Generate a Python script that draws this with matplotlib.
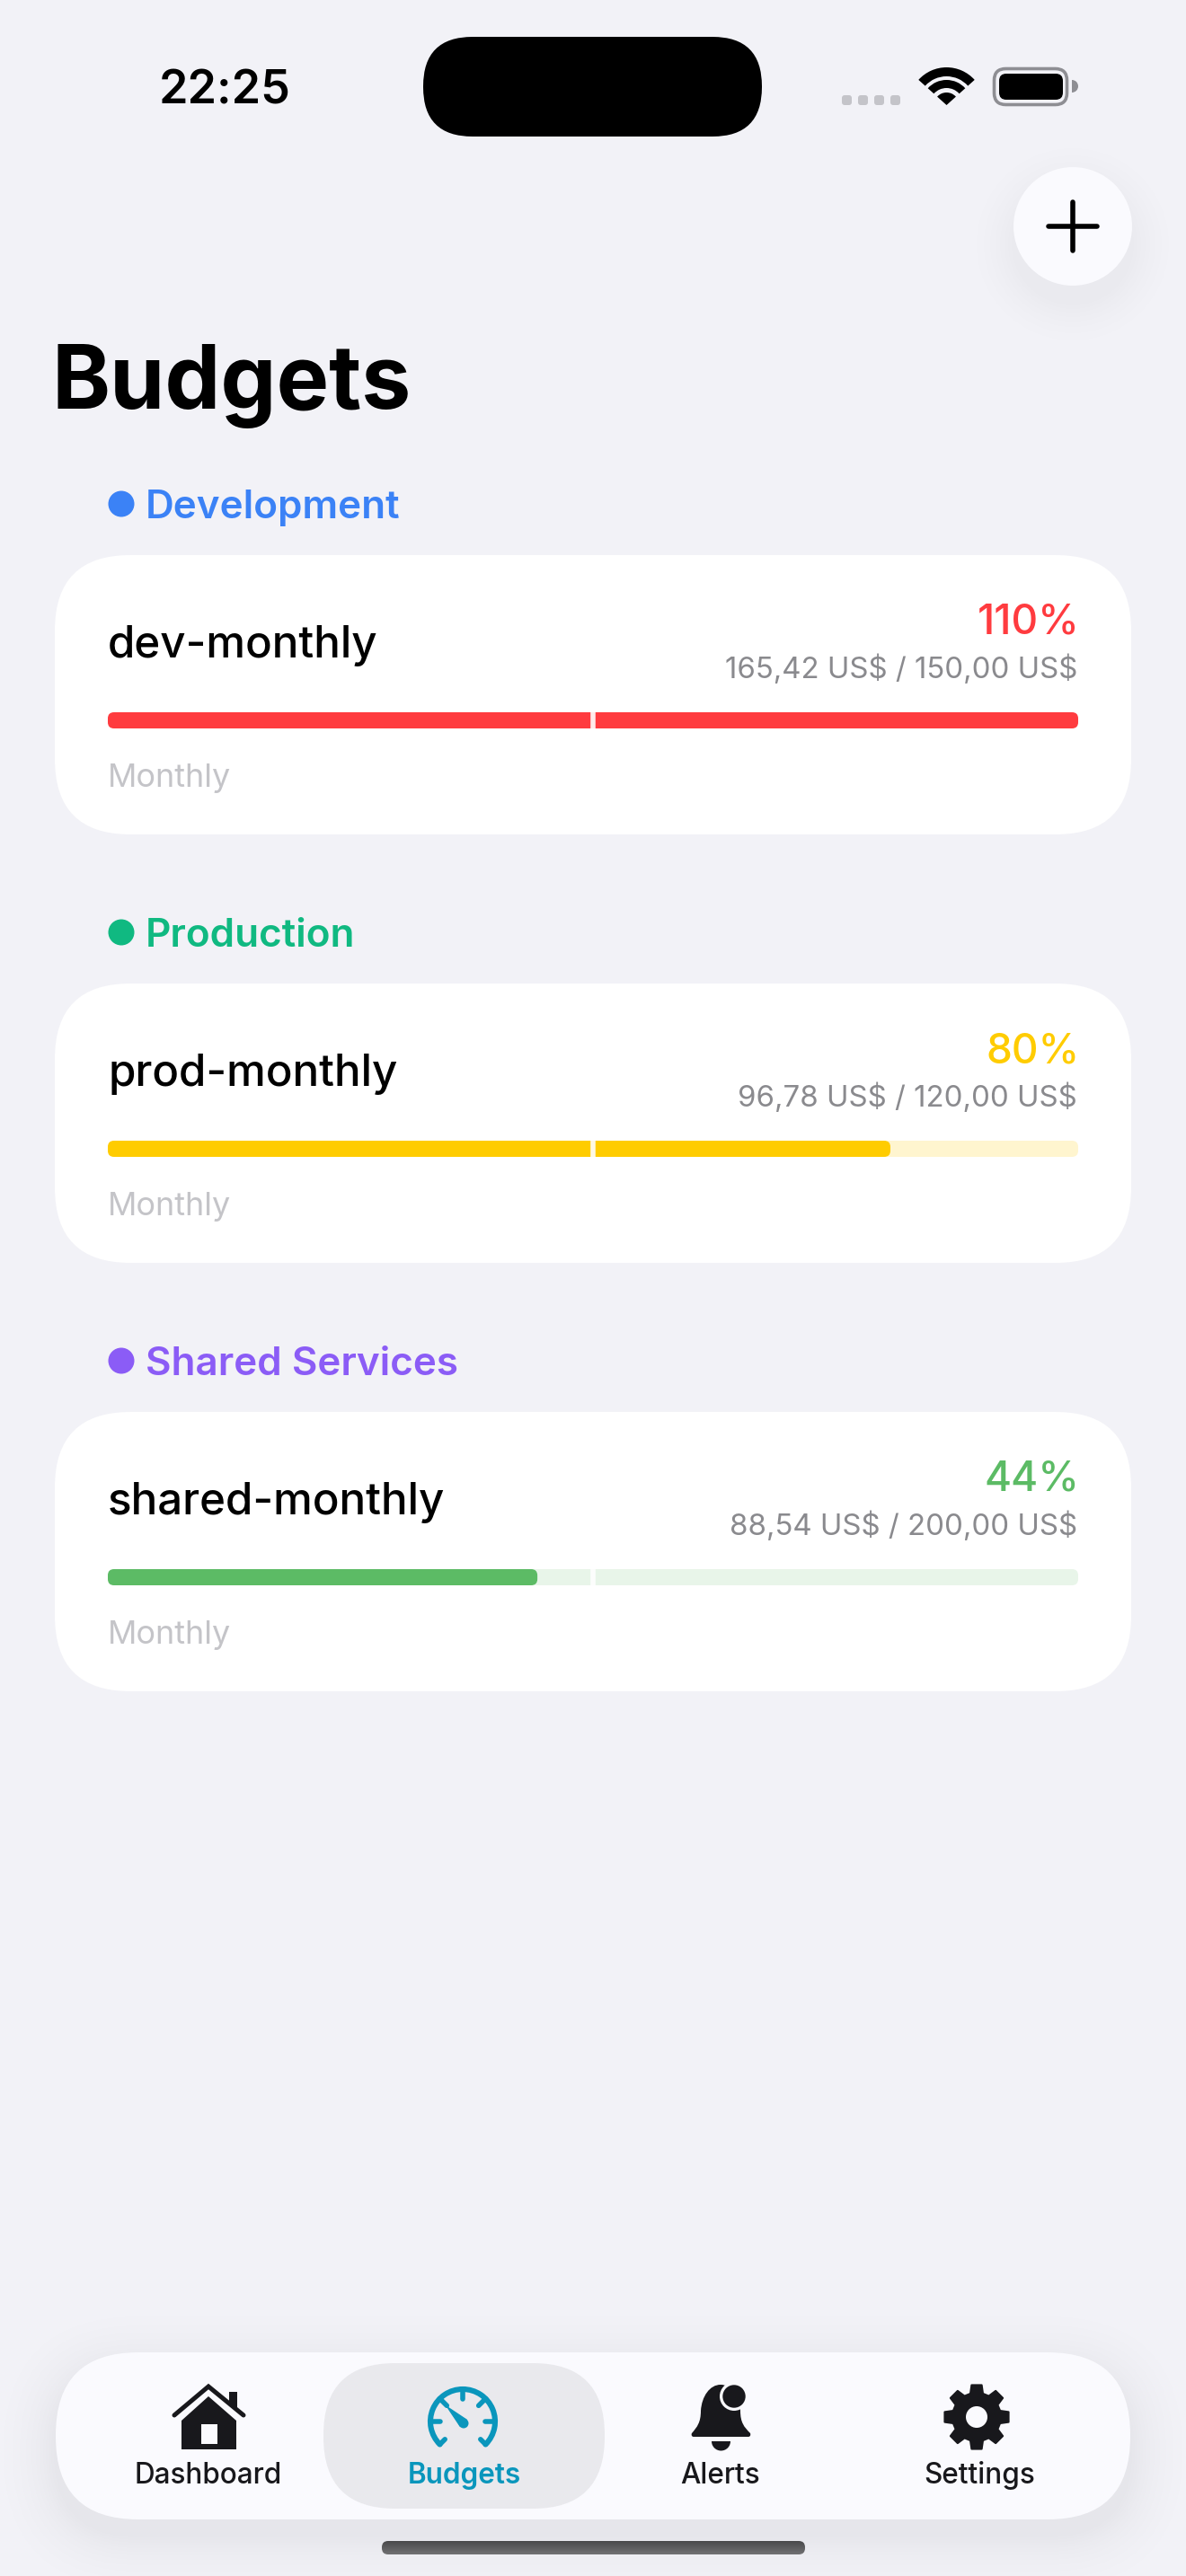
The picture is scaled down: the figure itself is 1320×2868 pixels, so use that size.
import numpy as np
import matplotlib
matplotlib.use("Agg")
import matplotlib.pyplot as plt
from matplotlib.patches import FancyBboxPatch, Circle, Wedge, Polygon, PathPatch, Arc
from matplotlib.path import Path

plt.rcParams["font.family"] = ["Inter", "Roboto", "DejaVu Sans"]

# data
groups = ["Development", "Production", "Shared Services"]
group_colors = ["#3B82F6", "#10B981", "#8B5CF6"]
budget_names = ["dev-monthly", "prod-monthly", "shared-monthly"]
spent = [165.42, 96.78, 88.54]
limits = [150.00, 120.00, 200.00]
pct_labels = ["110%", "80%", "44%"]
amount_labels = ["165,42 US$ / 150,00 US$", "96,78 US$ / 120,00 US$", "88,54 US$ / 200,00 US$"]
periods = ["Monthly", "Monthly", "Monthly"]
bar_colors = ["#FF3B3F", "#FFCC00", "#5CBB65"]
track_colors = ["#FFE0E0", "#FFF5CF", "#E8F5E9"]
tab_labels = ["Dashboard", "Budgets", "Alerts", "Settings"]
tab_centers = [232, 517, 802, 1090]

BG = "#F2F2F7"
BAR_BG = "#FAFAFE"
DARK = "#18181C"
TEAL = "#0A96BC"

fig = plt.figure(figsize=(13.2, 28.68), dpi=100, facecolor=BG)
ax = fig.add_axes([0, 0, 1, 1])
ax.set_xlim(0, 1320)
ax.set_ylim(2868, 0)
ax.axis("off")


def px(size):
    return size * 0.72


def rbox(x0, y0, x1, y1, r, color, z=2, alpha=1.0):
    p = FancyBboxPatch((x0, y0), x1 - x0, y1 - y0, boxstyle=f"round,pad=0,rounding_size={r}",
                       fc=color, ec="none", alpha=alpha, zorder=z)
    ax.add_patch(p)
    return p


def label(x, y, s, size, color, weight="normal", ha="left"):
    ax.text(x, y, s, fontsize=px(size), color=color, fontweight=weight, ha=ha, va="baseline",
            zorder=6, parse_math=False)


# ---- shadows ----
# alpha 0.004 is about one 8 bit level per layer
for g in [2, 5, 8, 11, 14, 18, 22, 27, 33, 40, 48, 58]:
    rbox(62 - g, 2619 + 18 - g, 1258 + g, 2805 + 18 + g, 92 + g, "#000000", z=1, alpha=0.004)
for g in [2, 6, 10, 15, 20, 26, 33, 41]:
    ax.add_patch(Circle((1194, 272), 66 + g, fc="#000000", ec="none", alpha=0.004, zorder=1))

# ---- status bar ----
label(250, 115, "22:25", 52, "black", "semibold", "center")
rbox(471, 41, 848, 152, 55, "black")
for x0 in [937, 955, 973, 991]:
    rbox(x0, 106, x0 + 11, 117, 3, "#C4C4C9")
for r_out, w in [(42, 10), (28, 9), (14, 14)]:
    ax.add_patch(Wedge((1053.5, 117), r_out, 222, 318, width=w, fc="black", ec="none", zorder=3))
rbox(1106.5, 76.5, 1187.5, 116.5, 13, BG)
ax.add_patch(FancyBboxPatch((1106.5, 76.5), 81, 40, boxstyle="round,pad=0,rounding_size=13",
                            fc="none", ec="#8E8E93", lw=2.6, zorder=3))
rbox(1112, 82, 1183, 111, 8, "black", z=4)
ax.add_patch(Wedge((1193, 96), 7, 270, 90, fc="#8E8E93", ec="none", zorder=3))

# ---- add button ----
ax.add_patch(Circle((1194, 252), 66, fc=BAR_BG, ec="none", zorder=2))
ax.plot([1167, 1221], [252, 252], color="black", lw=4, solid_capstyle="round", zorder=3)
ax.plot([1194, 1194], [225, 279], color="black", lw=4, solid_capstyle="round", zorder=3)

# ---- title ----
label(58, 455, "Budgets", 98.5, "black", "bold")

# ---- budget cards ----
for i in range(len(groups)):
    top = 618 + i * 477
    ax.add_patch(Circle((135, top - 57), 14.5, fc=group_colors[i], ec="none", zorder=3))
    label(162, top - 41, groups[i], 44, group_colors[i], "semibold")

    rbox(61, top, 1259, top + 311, 84, "white")
    label(120, top + 114, budget_names[i], 49.3, "black", "medium")
    label(1202, top + 88, pct_labels[i], 46, bar_colors[i], "medium", "right")
    label(1199, top + 137, amount_labels[i], 33, "#8A8A8E", "normal", "right")

    bar_x0, bar_x1 = 120, 1200
    y0, y1 = top + 175, top + 193
    rbox(bar_x0, y0, bar_x1, y1, 7, track_colors[i], z=3)
    frac = min(spent[i] / limits[i], 1.0)
    rbox(bar_x0, y0, bar_x0 + frac * (bar_x1 - bar_x0), y1, 7, bar_colors[i], z=4)
    ax.plot([660, 660], [y0, y1], color="white", lw=4, alpha=0.9, solid_capstyle="butt", zorder=5)

    label(120, top + 258, periods[i], 36, "#C4C4C8")

# ---- tab bar ----
rbox(62, 2619, 1258, 2805, 92, BAR_BG)
rbox(360, 2631, 673, 2793, 80, "#E9E9ED", z=3)
for name, cx in zip(tab_labels, tab_centers):
    c = TEAL if name == "Budgets" else DARK
    w = "semibold" if name == "Budgets" else "medium"
    label(cx, 2765, name, 31.5, c, w, "center")

# house
ax.add_patch(Polygon([[232, 2668], [263, 2695], [263, 2727], [202, 2727], [202, 2695]], fc=DARK, ec="none", zorder=5))
ax.plot([194, 232, 271], [2689, 2657, 2689], color=DARK, lw=3.6, solid_capstyle="round", solid_joinstyle="miter", zorder=5)
ax.add_patch(Polygon([[255, 2663], [264, 2663], [264, 2682], [255, 2674]], fc=DARK, ec="none", zorder=5))
ax.add_patch(Polygon([[224, 2699], [242, 2699], [242, 2721], [224, 2721]], fc=BAR_BG, ec="none", zorder=6))

# gauge
ax.add_patch(Arc((515, 2696), 72, 72, theta1=135, theta2=45, color=TEAL, lw=4.4, capstyle="round", zorder=5))
for a in [180, 225, 270, 315, 0]:
    t = np.radians(a)
    ax.plot([515 + 36 * np.cos(t), 515 + 25 * np.cos(t)], [2696 + 36 * np.sin(t), 2696 + 25 * np.sin(t)],
            color=TEAL, lw=4, solid_capstyle="round", zorder=5)
for a in [135, 45]:
    t = np.radians(a)
    ax.plot([515 + 36 * np.cos(t), 515 + 28 * np.cos(t)], [2696 + 36 * np.sin(t), 2696 + 28 * np.sin(t)],
            color=TEAL, lw=4, solid_capstyle="round", zorder=5)
ax.add_patch(Polygon([[498, 2680], [519, 2694], [512, 2701]], fc=TEAL, ec=TEAL, lw=1, joinstyle="round", zorder=5))
ax.add_patch(Circle((516, 2698), 5.5, fc=TEAL, ec="none", zorder=5))

# bell
bell = Path([(770, 2709), (776, 2702), (780, 2697), (780, 2684), (781, 2668), (790, 2655), (802, 2655),
             (814, 2655), (823, 2668), (824, 2684), (824, 2697), (828, 2702), (835, 2709),
             (836, 2712), (834, 2713), (833, 2713), (772, 2713), (770, 2713), (769, 2711), (770, 2709)],
            [Path.MOVETO] + [Path.CURVE4] * 12 + [Path.CURVE4] * 3 + [Path.LINETO] + [Path.CURVE4] * 3)
ax.add_patch(PathPatch(bell, fc=DARK, ec="none", zorder=5))
ax.add_patch(Wedge((802.5, 2718), 10.5, 0, 180, fc=DARK, ec="none", zorder=5))
ax.add_patch(Circle((817, 2668), 16, fc=BAR_BG, ec="none", zorder=6))
ax.add_patch(Circle((817, 2668), 12.7, fc=DARK, ec="none", zorder=7))

# gear
gear_pts = []
for k in range(8):
    a = -90 + k * 45
    for da, r in [(-15, 27), (-9, 36), (9, 36), (15, 27)]:
        t = np.radians(a + da)
        gear_pts.append([1087 + r * np.cos(t), 2691 + r * np.sin(t)])
ax.add_patch(Polygon(gear_pts, fc=DARK, ec=DARK, lw=1.5, joinstyle="round", zorder=5))
ax.add_patch(Circle((1087, 2691), 12, fc=BAR_BG, ec="none", zorder=6))

# home indicator
grad = np.linspace(0, 1, 32).reshape(-1, 1)
im = ax.imshow(grad, extent=(425, 896, 2844, 2829), cmap=matplotlib.colors.LinearSegmentedColormap.from_list("h", ["#4A4A4C", "#707072"]),
               aspect="auto", zorder=3)
clip = rbox(425, 2829, 896, 2844, 7, "none", z=0)
im.set_clip_path(clip)
ax.set_xlim(0, 1320)
ax.set_ylim(2868, 0)

fig.savefig("out.png", dpi=100, facecolor=BG)
